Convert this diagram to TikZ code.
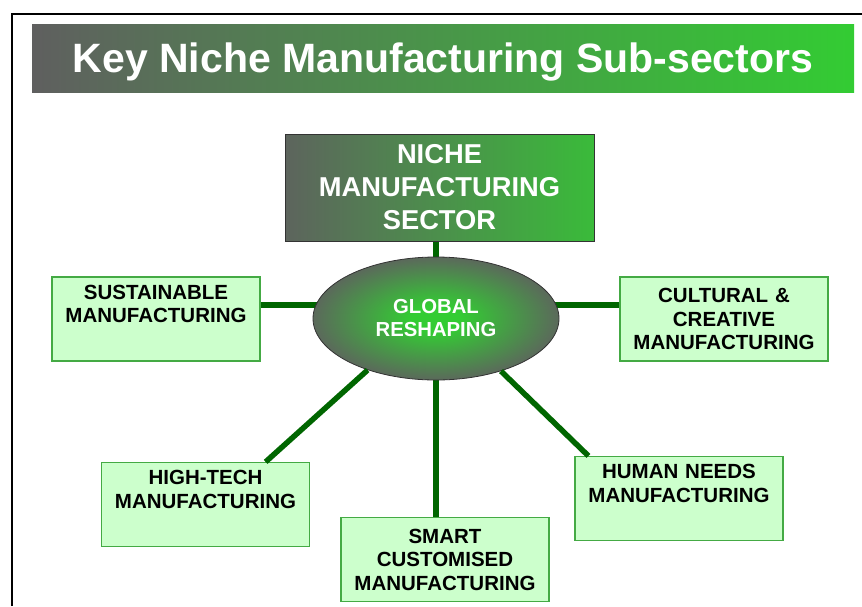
\documentclass[tikz,border=0pt]{standalone}
\usepackage{fontspec}
\setmainfont{Liberation Sans}
\usetikzlibrary{shapes.geometric,backgrounds}

\definecolor{nichegrey}{HTML}{5F5F5F}
\definecolor{nichegreen}{HTML}{33CC33}
\definecolor{subfill}{HTML}{CCFFCC}
\definecolor{subline}{HTML}{44AA44}
\definecolor{spoke}{HTML}{006600}

\pgfdeclarehorizontalshading{sectorshade}{100bp}{color(0bp)=(nichegrey); color(22bp)=(nichegrey); color(85bp)=(nichegreen); color(100bp)=(nichegreen)}
\pgfdeclareradialshading{globeshade}{\pgfpoint{0bp}{0bp}}{color(0bp)=(nichegreen); color(5bp)=(nichegreen); color(27bp)=(nichegrey); color(50bp)=(nichegrey)}

\tikzset{
    titlebar/.style  = {minimum width=822pt, minimum height=68pt, inner sep=0pt,
                        left color=nichegrey, right color=nichegreen, text=white,
                        text height=29pt, text depth=0pt,
                        font=\fontsize{41}{48}\selectfont\bfseries},
    sectorbox/.style = {draw=black!80, line width=0.8pt, shading=sectorshade,
                        minimum width=309pt, minimum height=107pt, inner sep=0pt,
                        text width=309pt, align=center, text=white,
                        font=\fontsize{27.3}{33}\selectfont\bfseries},
    globe/.style     = {ellipse, draw=black!80, line width=0.8pt, shading=globeshade,
                        minimum width=246pt, minimum height=123pt, inner sep=0pt,
                        align=center, text=white,
                        font=\fontsize{20.3}{23}\selectfont\bfseries},
    subbox/.style    = {draw=subline, line width=1.2pt, fill=subfill,
                        minimum width=208pt, minimum height=84pt, inner sep=0pt,
                        text width=208pt, align=center,
                        font=\fontsize{20.5}{23.5}\selectfont\bfseries},
    spokeline/.style = {draw=spoke, line width=5.5pt}
}

\begin{document}
\begin{tikzpicture}[x=1pt, y=-1pt]
        \useasboundingbox (0,0) rectangle (862,606);

        % Frame
        \draw[line width=2pt] (12,606) -- (12,14) -- (862,14);

        % Title
        \node[titlebar]  (title) at (443,  58) {Key Niche Manufacturing Sub-sectors};

        % Hub
        \node[sectorbox] (niche) at (439.5,187.5) {NICHE\\MANUFACTURING\\SECTOR};
        \node[globe]     (glob)  at (436,318.5)   {GLOBAL\\RESHAPING};

        % Sub-sectors
        \node[subbox] (sust)  at (156,  319)   {SUSTAINABLE\\MANUFACTURING\\\strut};
        \node[subbox] (cult)  at (724,  319)   {CULTURAL \&\\CREATIVE\\MANUFACTURING};
        \node[subbox] (htech) at (205.5,504.5) {HIGH-TECH\\MANUFACTURING\\\strut};
        \node[subbox] (smart) at (445,  559.5) {SMART\\CUSTOMISED\\MANUFACTURING};
        \node[subbox] (human) at (679,  498.5) {HUMAN NEEDS\\MANUFACTURING\\\strut};

        % Spokes
        \begin{scope}[on background layer]
            \draw[spokeline] (glob.center |- niche.south) -- (glob.center);
            \draw[spokeline] ([yshift=14pt]sust.east) -- ([yshift=14pt]sust.east -| glob.center);
            \draw[spokeline] ([yshift=14pt]cult.west) -- ([yshift=14pt]cult.west -| glob.center);
            \draw[spokeline] (glob.center) -- (glob.center |- smart.north);
        \end{scope}
        \draw[spokeline] (glob.217) -- ([xshift=-44.5pt]htech.north east);
        \draw[spokeline] (glob.321) -- ([xshift=14pt]human.north west);
\end{tikzpicture}
\end{document}
